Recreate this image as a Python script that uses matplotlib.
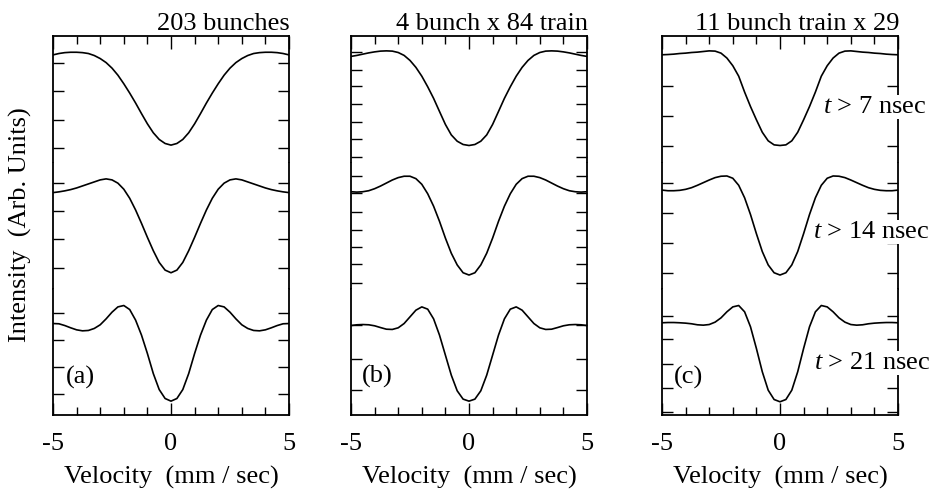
import numpy as np
import matplotlib
matplotlib.use("Agg")
import matplotlib.pyplot as plt
from matplotlib.ticker import MultipleLocator

plt.rcParams['font.family'] = ['Liberation Serif', 'DejaVu Serif']
plt.rcParams['mathtext.fontset'] = 'custom'
plt.rcParams['mathtext.it'] = 'Liberation Serif:italic'
plt.rcParams['mathtext.rm'] = 'Liberation Serif'
plt.rcParams['axes.unicode_minus'] = False

# velocity grid (mm/sec)
velocity = np.arange(-5, 5.001, 0.25)

# intensity, arbitrary units (fraction of each strip height)
# (a) 203 bunches
a_7 = [0.850, 0.861, 0.868, 0.871, 0.871, 0.868, 0.861, 0.845, 0.821, 0.789, 0.745,
       0.689, 0.621, 0.547, 0.468, 0.384, 0.303, 0.232, 0.179, 0.147, 0.134,
       0.147, 0.179, 0.232, 0.303, 0.384, 0.468, 0.547, 0.621, 0.689, 0.745,
       0.789, 0.821, 0.845, 0.861, 0.868, 0.871, 0.871, 0.868, 0.861, 0.850]
a_14 = [0.761, 0.767, 0.775, 0.785, 0.798, 0.814, 0.830, 0.846, 0.862, 0.870, 0.862,
        0.836, 0.788, 0.716, 0.623, 0.517, 0.406, 0.300, 0.207, 0.146, 0.125,
        0.146, 0.207, 0.300, 0.406, 0.517, 0.623, 0.716, 0.788, 0.836, 0.862,
        0.870, 0.862, 0.846, 0.830, 0.814, 0.798, 0.785, 0.775, 0.767, 0.761]
a_21 = [0.722, 0.720, 0.706, 0.688, 0.672, 0.664, 0.667, 0.683, 0.712, 0.759, 0.812,
        0.854, 0.865, 0.833, 0.749, 0.630, 0.484, 0.325, 0.198, 0.127, 0.106,
        0.127, 0.198, 0.325, 0.484, 0.630, 0.749, 0.833, 0.865, 0.854, 0.812,
        0.759, 0.712, 0.683, 0.667, 0.664, 0.672, 0.688, 0.706, 0.720, 0.722]
# (b) 4 bunch x 84 train
b_7 = [0.838, 0.846, 0.856, 0.866, 0.874, 0.880, 0.882, 0.880, 0.869, 0.846, 0.806,
       0.751, 0.681, 0.597, 0.505, 0.401, 0.298, 0.215, 0.165, 0.139, 0.131,
       0.139, 0.165, 0.215, 0.298, 0.401, 0.505, 0.597, 0.681, 0.751, 0.806,
       0.846, 0.869, 0.880, 0.882, 0.880, 0.874, 0.866, 0.856, 0.846, 0.838]
b_14 = [0.768, 0.765, 0.768, 0.776, 0.792, 0.813, 0.837, 0.861, 0.880, 0.891, 0.891,
        0.872, 0.827, 0.752, 0.653, 0.533, 0.400, 0.280, 0.187, 0.125, 0.107,
        0.125, 0.187, 0.280, 0.400, 0.533, 0.653, 0.752, 0.827, 0.872, 0.891,
        0.891, 0.880, 0.861, 0.837, 0.813, 0.792, 0.776, 0.768, 0.765, 0.768]
b_21 = [0.706, 0.712, 0.714, 0.712, 0.704, 0.690, 0.677, 0.675, 0.688, 0.722, 0.775,
        0.828, 0.854, 0.836, 0.759, 0.630, 0.471, 0.312, 0.188, 0.122, 0.106,
        0.122, 0.188, 0.312, 0.471, 0.630, 0.759, 0.836, 0.854, 0.828, 0.775,
        0.722, 0.688, 0.675, 0.677, 0.690, 0.704, 0.712, 0.714, 0.712, 0.706]
# (c) 11 bunch train x 29
c_7 = [0.851, 0.853, 0.856, 0.861, 0.864, 0.869, 0.872, 0.877, 0.882, 0.880, 0.864,
       0.825, 0.764, 0.681, 0.555, 0.440, 0.335, 0.236, 0.168, 0.136, 0.131,
       0.136, 0.168, 0.236, 0.335, 0.440, 0.555, 0.681, 0.764, 0.825, 0.864,
       0.880, 0.882, 0.877, 0.872, 0.869, 0.864, 0.861, 0.856, 0.853, 0.851]
c_14 = [0.781, 0.776, 0.776, 0.779, 0.787, 0.800, 0.819, 0.840, 0.861, 0.880, 0.891,
        0.893, 0.875, 0.819, 0.720, 0.587, 0.435, 0.293, 0.187, 0.125, 0.107,
        0.125, 0.187, 0.293, 0.435, 0.587, 0.720, 0.819, 0.875, 0.893, 0.891,
        0.880, 0.861, 0.840, 0.819, 0.800, 0.787, 0.779, 0.776, 0.776, 0.781]
c_21 = [0.728, 0.730, 0.730, 0.728, 0.725, 0.720, 0.712, 0.709, 0.714, 0.733, 0.767,
        0.815, 0.854, 0.865, 0.815, 0.696, 0.524, 0.339, 0.193, 0.119, 0.101,
        0.119, 0.193, 0.339, 0.524, 0.696, 0.815, 0.865, 0.854, 0.815, 0.767,
        0.733, 0.714, 0.709, 0.712, 0.720, 0.725, 0.728, 0.730, 0.730, 0.728]

titles = ["203 bunches", "4 bunch x 84 train", "11 bunch train x 29"]
panel_tags = ["(a)", "(b)", "(c)"]
gate_labels = [r"$\it{t}$ > 7 nsec", r"$\it{t}$ > 14 nsec", r"$\it{t}$ > 21 nsec"]
curves = [[a_7, a_14, a_21], [b_7, b_14, b_21], [c_7, c_14, c_21]]

# y tick marks of each strip (they differ between panels in the original)
yticks = [
    [[0.113, 0.337, 0.561, 0.784], [0.164, 0.390, 0.618, 0.841], [0.159, 0.378, 0.590, 0.807]],
    [[0.042, 0.183, 0.317, 0.458, 0.600, 0.733, 0.874],
     [0.043, 0.195, 0.331, 0.467, 0.611, 0.755, 0.891], [0.193, 0.444, 0.709]],
    [[0.126, 0.366, 0.602], [0.120, 0.360, 0.600, 0.835], [0.019, 0.209, 0.399, 0.598, 0.780]],
]

W, H = 938, 495
fig = plt.figure(figsize=(W / 100, H / 100), dpi=100)

def fx(px):
    return px / W

def fy(py):
    return 1 - py / H

lefts = [53, 351, 662]
width = 236
tops = [36, 162.5, 288.5]
strip_h = 126

fs = 19
for p in range(3):
    for r in range(3):
        ax = fig.add_axes([fx(lefts[p]), fy(tops[r] + strip_h), width / W, strip_h / H])
        ax.plot(velocity, curves[p][r], color='black', lw=1.2)
        ax.set_xlim(-5, 5)
        ax.set_ylim(0, 1)
        ax.set_yticks(yticks[p][r])
        ax.tick_params(axis='y', direction='in', left=True, right=True,
                       length=8, width=1, labelleft=False)
        ax.xaxis.set_major_locator(MultipleLocator(5))
        ax.xaxis.set_minor_locator(MultipleLocator(1))
        for s in ax.spines.values():
            s.set_linewidth(1.3)
        if r == 0:
            ax.spines['bottom'].set_visible(False)
            ax.tick_params(axis='x', which='both', direction='in', top=True, bottom=False,
                           labeltop=False, labelbottom=False, width=1)
        elif r == 1:
            ax.spines['bottom'].set_visible(False)
            ax.spines['top'].set_visible(False)
            ax.tick_params(axis='x', which='both', top=False, bottom=False,
                           labelbottom=False)
        else:
            ax.spines['top'].set_visible(False)
            ax.tick_params(axis='x', which='both', direction='in', top=False, bottom=True,
                           labelbottom=True, width=1, pad=13, labelsize=fs)
            ax.set_xlabel("Velocity  (mm / sec)", fontsize=fs, labelpad=8)
        ax.tick_params(axis='x', which='major', length=9)
        ax.tick_params(axis='x', which='minor', length=6)

    fig.text(fx(lefts[p] + width + 1), fy(30), titles[p], ha='right', va='baseline', fontsize=fs)

fig.text(fx(66), fy(377), panel_tags[0], ha='left', va='center', fontsize=fs)
fig.text(fx(362), fy(376), panel_tags[1], ha='left', va='center', fontsize=fs)
fig.text(fx(674), fy(377), panel_tags[2], ha='left', va='center', fontsize=fs)

gate_pos = [(823, 107), (813, 232), (814, 363)]
for (gx, gy), lab in zip(gate_pos, gate_labels):
    fig.text(fx(gx), fy(gy), lab, ha='left', va='center', fontsize=fs,
             bbox=dict(facecolor='white', edgecolor='none', pad=1), zorder=10)

fig.text(fx(20), fy(225), "Intensity  (Arb. Units)", rotation=90,
         ha='center', va='center', fontsize=fs)

fig.savefig("out.png", dpi=100)
